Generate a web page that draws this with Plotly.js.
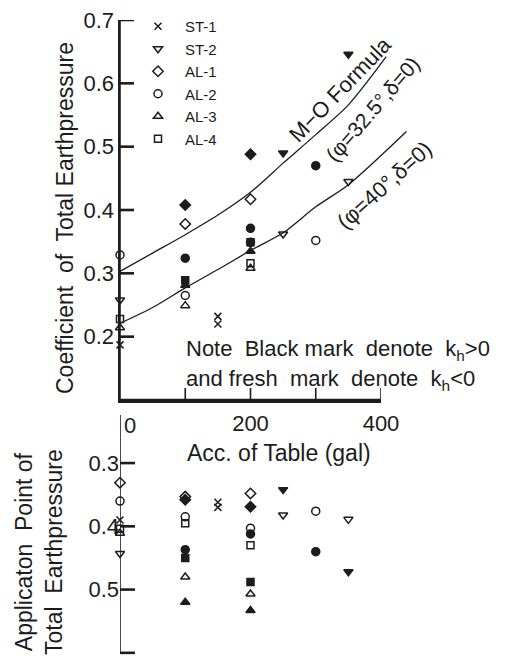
<!DOCTYPE html>
<html>
<head>
<meta charset="utf-8">
<script src="https://cdn.plot.ly/plotly-3.0.1.min.js"></script>
<style>html,body{margin:0;padding:0;background:#fff;}#chart{width:507px;height:664px;}</style>
</head>
<body>
<div id="chart"></div>
<script>
// ---------- upper panel: coefficient of total earth pressure vs acc. of table (gal) ----------
const st1Acc = [0, 150, 150];           const st1Coef = [0.187, 0.232, 0.220];
const st2OpenAcc = [0, 250, 350];       const st2OpenCoef = [0.258, 0.362, 0.445];
const st2BlackAcc = [250, 350];         const st2BlackCoef = [0.490, 0.646];
const al1OpenAcc = [100, 200];          const al1OpenCoef = [0.378, 0.417];
const al1BlackAcc = [100, 200];         const al1BlackCoef = [0.408, 0.488];
const al2OpenAcc = [0, 100, 200, 300];  const al2OpenCoef = [0.329, 0.265, 0.349, 0.352];
const al2BlackAcc = [100, 200, 300];    const al2BlackCoef = [0.324, 0.371, 0.470];
const al3OpenAcc = [0, 100, 200];       const al3OpenCoef = [0.214, 0.249, 0.308];
const al3BlackAcc = [100, 200];         const al3BlackCoef = [0.281, 0.335];
const al4OpenAcc = [0, 200];            const al4OpenCoef = [0.228, 0.316];
const al4BlackAcc = [100, 200];         const al4BlackCoef = [0.289, 0.349];

// M-O formula curves
const mo325Acc = [0, 50, 100, 150, 200, 250, 300, 350, 408];
const mo325Coef = [0.303, 0.332, 0.361, 0.392, 0.428, 0.474, 0.519, 0.566, 0.642];
const mo40Acc = [0, 50, 100, 150, 200, 250, 300, 350, 439];
const mo40Coef = [0.221, 0.246, 0.277, 0.306, 0.336, 0.364, 0.405, 0.440, 0.524];

// ---------- lower panel: application point of total earth pressure ----------
const st1PtAcc = [0, 150, 150];          const st1Pt = [0.390, 0.362, 0.370];
const st2OpenPtAcc = [0, 250, 350];      const st2OpenPt = [0.443, 0.382, 0.389];
const st2BlackPtAcc = [250, 350];        const st2BlackPt = [0.342, 0.472];
const al1OpenPtAcc = [0, 100, 200];      const al1OpenPt = [0.331, 0.353, 0.348];
const al1BlackPtAcc = [100, 200];        const al1BlackPt = [0.358, 0.369];
const al2OpenPtAcc = [0, 100, 200, 300]; const al2OpenPt = [0.360, 0.385, 0.403, 0.376];
const al2BlackPtAcc = [100, 200, 300];   const al2BlackPt = [0.437, 0.412, 0.440];
const al3OpenPtAcc = [0, 100, 200];      const al3OpenPt = [0.411, 0.480, 0.507];
const al3BlackPtAcc = [100, 200];        const al3BlackPt = [0.520, 0.533];
const al4OpenPtAcc = [0, 100, 200];      const al4OpenPt = [0.404, 0.395, 0.430];
const al4BlackPtAcc = [100, 200];        const al4BlackPt = [0.450, 0.488];

// tick labels
const coefTicks = [0.2, 0.3, 0.4, 0.5, 0.6, 0.7];
const coefTickText = ['0.2', '0.3', '0.4', '0.5', '0.6', '0.7'];
const accTicks = [100, 200, 300, 400];
const accTickText = ['', '200', '', '400'];
const ptTicks = [0.3, 0.4, 0.5, 0.6];
const ptTickText = ['0.3', '0.4', '0.5', '0.6'];
const seriesNames = ['ST-1', 'ST-2', 'AL-1', 'AL-2', 'AL-3', 'AL-4'];

const INK = '#1c1c1c';
const FONT = 'Liberation Sans, Arial, sans-serif';

function pts(name, xs, ys, yax, symbol, legend, size) {
  return {
    type: 'scatter', mode: 'markers', name: name, x: xs, y: ys,
    xaxis: 'x2', yaxis: yax, cliponaxis: false, showlegend: legend,
    legendgroup: name,
    marker: {symbol: symbol, size: size || 8, color: INK, line: {color: INK, width: 1.5}},
    hoverinfo: 'x+y'
  };
}

const traces = [
  // upper panel markers
  pts(seriesNames[0], st1Acc, st1Coef, 'y', 'x-thin-open', true, 7),
  pts(seriesNames[1], st2OpenAcc, st2OpenCoef, 'y', 'triangle-down-open', true),
  pts(seriesNames[2], al1OpenAcc, al1OpenCoef, 'y', 'diamond-open', true),
  pts(seriesNames[3], al2OpenAcc, al2OpenCoef, 'y', 'circle-open', true),
  pts(seriesNames[4], al3OpenAcc, al3OpenCoef, 'y', 'triangle-up-open', true),
  pts(seriesNames[5], al4OpenAcc, al4OpenCoef, 'y', 'square-open', true, 7),
  pts(seriesNames[1], st2BlackAcc, st2BlackCoef, 'y', 'triangle-down', false),
  pts(seriesNames[2], al1BlackAcc, al1BlackCoef, 'y', 'diamond', false),
  pts(seriesNames[3], al2BlackAcc, al2BlackCoef, 'y', 'circle', false),
  pts(seriesNames[4], al3BlackAcc, al3BlackCoef, 'y', 'triangle-up', false),
  pts(seriesNames[5], al4BlackAcc, al4BlackCoef, 'y', 'square', false, 7),
  // M-O formula curves (on the wide x axis so they may run past 400 gal)
  {type: 'scatter', mode: 'lines', name: 'M-O φ=32.5°', x: mo325Acc, y: mo325Coef,
   xaxis: 'x', yaxis: 'y', showlegend: false,
   line: {color: INK, width: 1.3, shape: 'spline', smoothing: 0.8}},
  {type: 'scatter', mode: 'lines', name: 'M-O φ=40°', x: mo40Acc, y: mo40Coef,
   xaxis: 'x', yaxis: 'y', showlegend: false,
   line: {color: INK, width: 1.3, shape: 'spline', smoothing: 0.8}},
  // lower panel markers
  pts(seriesNames[0], st1PtAcc, st1Pt, 'y2', 'x-thin-open', false, 7),
  pts(seriesNames[1], st2OpenPtAcc, st2OpenPt, 'y2', 'triangle-down-open', false),
  pts(seriesNames[1], st2BlackPtAcc, st2BlackPt, 'y2', 'triangle-down', false),
  pts(seriesNames[2], al1OpenPtAcc, al1OpenPt, 'y2', 'diamond-open', false),
  pts(seriesNames[2], al1BlackPtAcc, al1BlackPt, 'y2', 'diamond', false),
  pts(seriesNames[3], al2OpenPtAcc, al2OpenPt, 'y2', 'circle-open', false),
  pts(seriesNames[3], al2BlackPtAcc, al2BlackPt, 'y2', 'circle', false),
  pts(seriesNames[4], al3OpenPtAcc, al3OpenPt, 'y2', 'triangle-up-open', false),
  pts(seriesNames[4], al3BlackPtAcc, al3BlackPt, 'y2', 'triangle-up', false),
  pts(seriesNames[5], al4OpenPtAcc, al4OpenPt, 'y2', 'square-open', false, 7),
  pts(seriesNames[5], al4BlackPtAcc, al4BlackPt, 'y2', 'square', false, 7)
];

const W = 507, H = 664;
const px = v => v / W;           // paper x from pixel
const py = v => 1 - v / H;       // paper y from pixel
const axisX = 120;               // pixel column of the vertical axes
const axisEnd = 381;             // pixel column of 400 gal

const tickFont = {family: FONT, size: 22, color: INK};
const txt = (x, y, text, size, angle, extra) => Object.assign({
  xref: 'paper', yref: 'paper', x: px(x), y: py(y), text: text, showarrow: false,
  xanchor: 'center', yanchor: 'middle', textangle: angle || 0,
  font: {family: FONT, size: size, color: INK}
}, extra || {});

// axis rules and tick marks, placed on the axes' own scales
const vRule = {color: INK, width: 1.6};
const hRule = {color: INK, width: 2.6};
const shapes = [
  {type: 'line', xref: 'x2', yref: 'y', x0: 0, x1: 400, y0: 0.1, y1: 0.1, line: hRule},
  {type: 'line', xref: 'x2', yref: 'y', x0: 0, x1: 0, y0: 0.1, y1: 0.7, line: vRule},
  {type: 'line', xref: 'x2', yref: 'y2', x0: 0, x1: 0, y0: 0.224, y1: 0.6, line: vRule}
].concat(
  accTicks.map(v => ({type: 'line', xref: 'x2', yref: 'y', ysizemode: 'pixel', yanchor: 0.1,
    x0: v, x1: v, y0: -7, y1: 12, line: vRule})),
  coefTicks.map(v => ({type: 'line', xref: 'x2', yref: 'y', xsizemode: 'pixel', xanchor: 0,
    x0: 0, x1: 14, y0: v, y1: v, line: hRule})),
  ptTicks.map(v => ({type: 'line', xref: 'x2', yref: 'y2', xsizemode: 'pixel', xanchor: 0,
    x0: 0, x1: 15, y0: v, y1: v, line: hRule}))
);

const layout = {
  width: W, height: H,
  margin: {l: 0, r: 0, t: 0, b: 0},
  paper_bgcolor: '#fff', plot_bgcolor: 'rgba(0,0,0,0)',
  showlegend: true,
  font: {family: FONT, color: INK},
  // wide axis with the same scale as xaxis2: carries the formula curves
  xaxis: {domain: [0, 1], range: [-axisX * 400 / (axisEnd - axisX), (W - axisX) * 400 / (axisEnd - axisX)],
    anchor: 'y', showline: false, showgrid: false, zeroline: false, showticklabels: false, ticks: '', fixedrange: true},
  // acceleration axis of the upper panel
  xaxis2: {domain: [px(axisX), px(axisEnd)], range: [0, 400], anchor: 'y',
    showline: true, linecolor: INK, linewidth: 2.6, showgrid: false, zeroline: false, ticks: '',
    tickvals: accTicks, ticktext: accTickText, tickfont: tickFont, ticklabelstandoff: 2, fixedrange: true},
  yaxis: {domain: [py(400), py(20)], range: [0.1, 0.7], anchor: 'x2',
    showline: true, linecolor: INK, linewidth: 1.6, showgrid: false, zeroline: false, ticks: '',
    tickvals: coefTicks, ticktext: coefTickText, tickfont: tickFont, fixedrange: true},
  yaxis2: {domain: [py(656), py(415)], range: [0.605, 0.224], anchor: 'x2',
    showline: false, showgrid: false, zeroline: false, ticks: '',
    tickvals: ptTicks, ticktext: ptTickText, tickfont: tickFont, fixedrange: true},
  legend: {x: px(131), y: py(10), xanchor: 'left', yanchor: 'top',
    bgcolor: 'rgba(0,0,0,0)', borderwidth: 0, tracegroupgap: 0,
    font: {family: FONT, size: 15, color: INK}, itemwidth: 44},
  shapes: shapes,
  annotations: [
    txt(65, 218, 'Coefficient  of  Total Earthpressure', 23, -90),
    txt(39, 552, 'Applicaton  Point of<br>Total  Earthpressure', 23, -90, {align: 'center'}),
    txt(130, 425, '0', 22),
    txt(279, 453, 'Acc. of Table (gal)', 23),
    txt(184, 350, 'Note  Black mark  denote  k<sub>h</sub>>0', 22, 0, {xanchor: 'left'}),
    txt(184, 380, 'and fresh  mark  denote  k<sub>h</sub>&lt;0', 22, 0, {xanchor: 'left'}),
    txt(340, 89, 'M−O Formula', 22, -46),
    txt(372, 109, '(φ=32.5°,δ=0)', 21, -49),
    txt(384, 185, '(φ=40°,δ=0)', 22, -42)
  ]
};

Plotly.newPlot('chart', traces, layout, {displayModeBar: false, staticPlot: true});
</script>
</body>
</html>
